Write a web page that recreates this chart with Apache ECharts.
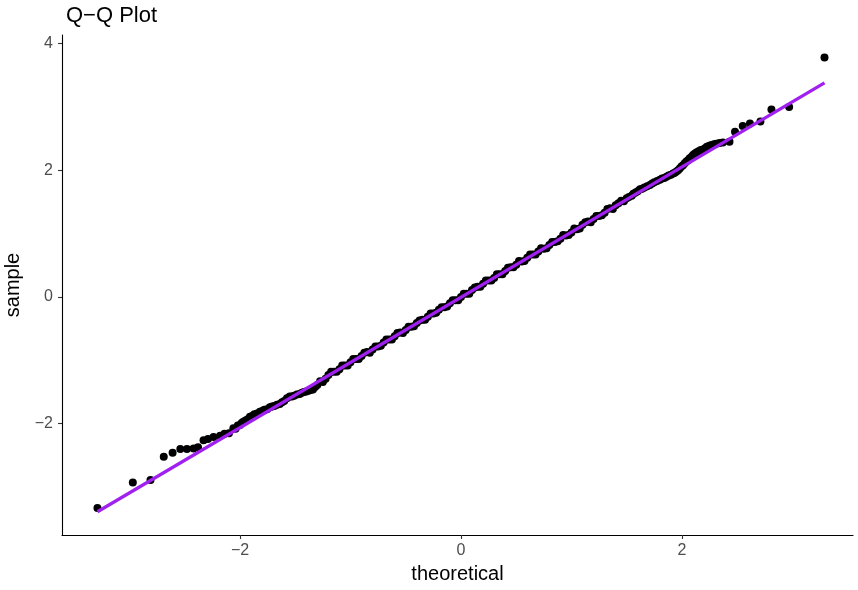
<!DOCTYPE html>
<html>
<head>
<meta charset="utf-8">
<script src="https://cdn.jsdelivr.net/npm/echarts@6/dist/echarts.min.js"></script>
<style>
  html, body { margin: 0; padding: 0; background: #ffffff; }
  #chart { width: 858px; height: 590px; }
</style>
</head>
<body>
<div id="chart"></div>
<script>
// Theoretical quantiles (x) and sample quantiles (y)
const theoretical = [
  -3.29, -2.97, -2.81, -2.69, -2.61, -2.54, -2.48, -2.42, -2.38, -2.33,
  -2.29, -2.24, -2.18, -2.14, -2.10, -2.06, -2.02, -1.985, -1.95, -1.91,
  -1.87, -1.82, -1.78, -1.73, -1.69, -1.64, -1.60, -1.55, -1.51, -1.46,
  -1.42, -1.38, -1.34, -1.30, -1.25,
  -1.20, -1.15, -1.10, -1.05, -1.00, -0.95, -0.90, -0.85, -0.80, -0.75,
  -0.70, -0.65, -0.60, -0.55, -0.50, -0.45, -0.40, -0.35, -0.30, -0.25,
  -0.20, -0.15, -0.10, -0.05, 0.00, 0.05, 0.10, 0.15, 0.20, 0.25,
  0.30, 0.35, 0.40, 0.45, 0.50, 0.55, 0.60, 0.65, 0.70, 0.75,
  0.80, 0.85, 0.90, 0.95, 1.00, 1.05, 1.10, 1.15, 1.20, 1.25,
  1.30, 1.35, 1.40,
  1.45, 1.50, 1.545, 1.58, 1.62, 1.66, 1.71, 1.75, 1.80, 1.84,
  1.88, 1.92, 1.95, 1.98, 2.01, 2.04, 2.07, 2.10, 2.13, 2.17,
  2.21, 2.24, 2.27, 2.31, 2.37, 2.43, 2.48, 2.55, 2.615, 2.71,
  2.81, 2.97, 3.29
];
const sample = [
  -3.33, -2.93, -2.89, -2.52, -2.46, -2.40, -2.40, -2.39, -2.37, -2.26,
  -2.24, -2.21, -2.19, -2.16, -2.15, -2.07, -2.03, -1.99, -1.95, -1.89,
  -1.85, -1.81, -1.78, -1.74, -1.72, -1.69, -1.64, -1.57, -1.56, -1.53,
  -1.50, -1.48, -1.46, -1.39, -1.34,
  -1.23, -1.18, -1.14, -1.08, -1.03, -0.98, -0.93, -0.87, -0.83, -0.78,
  -0.72, -0.67, -0.62, -0.56, -0.52, -0.47, -0.41, -0.36, -0.31, -0.26,
  -0.20, -0.16, -0.10, -0.05, 0.00, 0.05, 0.11, 0.16, 0.21, 0.26,
  0.30, 0.36, 0.41, 0.47, 0.51, 0.56, 0.62, 0.67, 0.72, 0.76,
  0.82, 0.87, 0.92, 0.97, 1.02, 1.07, 1.14, 1.19, 1.23, 1.28,
  1.33, 1.40, 1.45,
  1.52, 1.56, 1.60, 1.65, 1.70, 1.73, 1.77, 1.81, 1.85, 1.88,
  1.92, 1.95, 1.98, 2.03, 2.08, 2.14, 2.19, 2.24, 2.28, 2.32,
  2.35, 2.38, 2.40, 2.42, 2.44, 2.45, 2.61, 2.70, 2.74, 2.77,
  2.96, 3.00, 3.78
];
// Further points filling the thick central band (scatter either side of the line)
const theoreticalBand = [
  -2.04, -2.00, -1.97, -1.93, -1.89, -1.845, -1.80, -1.755, -1.71, -1.665,
  -1.62, -1.575, -1.53, -1.485, -1.44, -1.40, -1.36, -1.32, -1.275,
  -1.225, -1.175, -1.125, -1.075, -1.025, -0.975, -0.925, -0.875, -0.825, -0.775,
  -0.725, -0.675, -0.625, -0.575, -0.525, -0.475, -0.425, -0.375, -0.325, -0.275,
  -0.225, -0.175, -0.125, -0.075, -0.025, 0.025, 0.075, 0.125, 0.175, 0.225,
  0.275, 0.325, 0.375, 0.425, 0.475, 0.525, 0.575, 0.625, 0.675, 0.725,
  0.775, 0.825, 0.875, 0.925, 0.975, 1.025, 1.075, 1.125, 1.175, 1.225,
  1.275, 1.325, 1.375, 1.425,
  1.475, 1.52, 1.56, 1.60, 1.64, 1.685, 1.73, 1.775, 1.82, 1.86,
  1.90, 1.935, 1.965, 1.995, 2.025, 2.055, 2.085, 2.115, 2.15, 2.19,
  2.225, 2.255, 2.29, 2.34
];
const sampleBand = [
  -2.08, -2.02, -1.97, -1.93, -1.88, -1.84, -1.80, -1.77, -1.73, -1.70,
  -1.66, -1.60, -1.57, -1.54, -1.51, -1.49, -1.47, -1.42, -1.33,
  -1.29, -1.18, -1.18, -1.08, -1.08, -0.98, -0.98, -0.88, -0.88, -0.78,
  -0.77, -0.67, -0.67, -0.57, -0.57, -0.47, -0.46, -0.37, -0.36, -0.26,
  -0.25, -0.16, -0.15, -0.05, -0.05, 0.05, 0.05, 0.15, 0.16, 0.26,
  0.26, 0.36, 0.36, 0.46, 0.47, 0.57, 0.57, 0.67, 0.67, 0.77,
  0.77, 0.87, 0.88, 0.98, 0.98, 1.08, 1.08, 1.18, 1.18, 1.28,
  1.29, 1.39, 1.39, 1.48,
  1.51, 1.58, 1.63, 1.67, 1.71, 1.75, 1.79, 1.83, 1.87, 1.90,
  1.93, 1.96, 2.00, 2.06, 2.11, 2.16, 2.21, 2.26, 2.30, 2.33,
  2.37, 2.39, 2.41, 2.43
];
// Reference line end points
const lineX = [-3.29, 3.29];
const lineY = [-3.39, 3.38];
// Tick labels
const xTicks = [-2, 0, 2];
const yTicks = [-2, 0, 2, 4];

const pts = theoretical.map((t, i) => [t, sample[i]])
  .concat(theoreticalBand.map((t, i) => [t, sampleBand[i]]));
const linePts = lineX.map((t, i) => [t, lineY[i]]);
const fmt = v => String(v).replace('-', '\u2212');

const chart = echarts.init(document.getElementById('chart'), null, { renderer: 'canvas' });
chart.setOption({
  animation: false,
  backgroundColor: '#ffffff',
  textStyle: { fontFamily: 'Liberation Sans, Arial, sans-serif' },
  title: {
    text: 'Q\u2212Q Plot',
    left: 61,
    top: 0,
    textStyle: { fontSize: 22, fontWeight: 'normal', color: '#000000', fontFamily: 'Liberation Sans, Arial, sans-serif' }
  },
  grid: { left: 62, right: 5, top: 35, bottom: 55, containLabel: false, outerBoundsMode: 'none' },
  xAxis: {
    type: 'value',
    min: -3.611,
    max: 3.548,
    name: 'theoretical',
    nameLocation: 'middle',
    nameGap: 29,
    nameTextStyle: { fontSize: 20, color: '#000000' },
    splitLine: { show: false },
    axisLine: { show: true, onZero: false, lineStyle: { color: '#000000', width: 1.1 } },
    axisTick: { show: true, length: 4, customValues: xTicks, lineStyle: { color: '#333333', width: 1.1 } },
    axisLabel: { customValues: xTicks, margin: 8, fontSize: 16, color: '#4d4d4d', formatter: fmt }
  },
  yAxis: {
    type: 'value',
    min: -3.757,
    max: 4.136,
    name: 'sample',
    nameLocation: 'middle',
    nameGap: 31,
    nameRotate: 90,
    nameTextStyle: { fontSize: 20, color: '#000000' },
    splitLine: { show: false },
    axisLine: { show: true, onZero: false, lineStyle: { color: '#000000', width: 1.1 } },
    axisTick: { show: true, length: 4, customValues: yTicks, lineStyle: { color: '#333333', width: 1.1 } },
    axisLabel: { customValues: yTicks, margin: 9, fontSize: 16, color: '#4d4d4d', formatter: fmt }
  },
  series: [
    {
      type: 'scatter',
      data: pts,
      symbol: 'circle',
      symbolSize: 8,
      itemStyle: { color: '#000000', opacity: 1 },
      z: 2
    },
    {
      type: 'line',
      data: linePts,
      showSymbol: false,
      symbol: 'none',
      lineStyle: { color: '#A020F0', width: 3.2 },
      z: 3
    }
  ]
});
</script>
</body>
</html>
